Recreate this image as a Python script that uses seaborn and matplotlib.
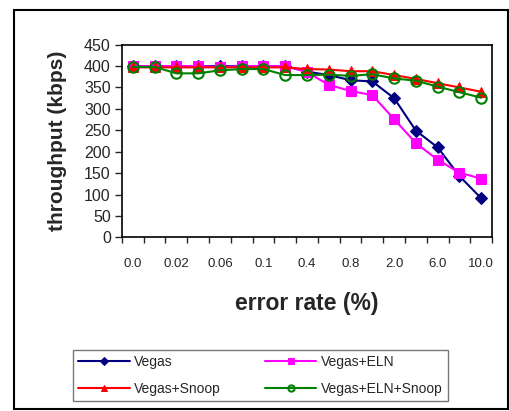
import numpy as np
import pandas as pd
import matplotlib
matplotlib.use("Agg")
import matplotlib.pyplot as plt
import seaborn as sns
from matplotlib.patches import Rectangle

# error rate categories (every other label is shown on the axis)
error_rates = ["0.0", "0.01", "0.02", "0.04", "0.06", "0.08", "0.1", "0.2", "0.4",
               "0.6", "0.8", "1.0", "2.0", "4.0", "6.0", "8.0", "10.0"]

vegas = [400, 400, 400, 400, 400, 400, 400, 400, 387, 379, 367, 364, 325, 249, 210, 143, 91]
vegas_eln = [400, 400, 400, 400, 398, 400, 400, 400, 386, 356, 342, 332, 276, 220, 181, 151, 137]
vegas_snoop = [397, 397, 397, 397, 397, 397, 397, 397, 393, 392, 388, 388, 379, 370, 360, 350, 340]
vegas_eln_snoop = [398, 398, 383, 383, 390, 393, 393, 379, 379, 380, 377, 381, 371, 366, 352, 339, 326]

series = {
    "Vegas": vegas,
    "Vegas+ELN": vegas_eln,
    "Vegas+Snoop": vegas_snoop,
    "Vegas+ELN+Snoop": vegas_eln_snoop,
}
styles = {
    "Vegas": dict(color="#000080", marker="D", markersize=6.5),
    "Vegas+ELN": dict(color="#FF00FF", marker="s", markersize=7.5),
    "Vegas+Snoop": dict(color="#FF0000", marker="^", markersize=7),
    "Vegas+ELN+Snoop": dict(color="#008000", marker="o", markersize=7.5,
                            markerfacecolor="none", markeredgewidth=1.5),
}

sns.set_style("white")
plt.rcParams["font.family"] = ["Liberation Sans", "DejaVu Sans"]

fig = plt.figure(figsize=(5.10, 4.11), dpi=100)
ax = fig.add_axes([0.239, 0.4226, 0.726, 0.4687])

pos = np.arange(len(error_rates))
for name, vals in series.items():
    df = pd.DataFrame({"x": pos, "y": vals})
    sns.lineplot(data=df, x="x", y="y", ax=ax, label=name, linewidth=1.5,
                 markeredgecolor=styles[name]["color"], **styles[name])

ax.set_xlim(-0.5, len(error_rates) - 0.5)
ax.set_ylim(0, 450)
ax.set_yticks(np.arange(0, 451, 50))
ax.tick_params(axis="y", labelsize=11.5, length=5, width=1, direction="out", left=True, pad=3)

ax.set_xticks(pos)
ax.set_xticklabels([lab if i % 2 == 0 else "" for i, lab in enumerate(error_rates)])
ax.set_xticks(np.arange(-0.5, len(error_rates), 1), minor=True)
ax.tick_params(axis="x", which="major", labelsize=9.5, length=0, pad=15)
ax.tick_params(axis="x", which="minor", length=4, width=1, direction="out", bottom=True)

for sp in ax.spines.values():
    sp.set_color("black")
    sp.set_linewidth(1.2)

ax.set_xlabel("error rate (%)", fontsize=16.5, fontweight="bold", labelpad=16)
ax.set_ylabel("throughput (kbps)", fontsize=15, fontweight="bold", labelpad=12)

# row-major order like the reference legend
handles, labels = ax.get_legend_handles_labels()
order = [0, 2, 1, 3]
ax.legend([handles[i] for i in order], [labels[i] for i in order],
          loc="lower left", bbox_to_anchor=(0.143, 0.024, 0.735, 0.139),
          bbox_transform=fig.transFigure, ncol=2, mode="expand", fontsize=10,
          frameon=True, fancybox=False, edgecolor="#555555", handlelength=3.7,
          handletextpad=0.3, markerscale=0.6, borderaxespad=0, labelspacing=0.9)
ax.get_legend().get_frame().set_linewidth(1)

fig.patches.append(Rectangle((0.0275, 0.005), 0.9686, 0.9708, transform=fig.transFigure,
                             fill=False, edgecolor="black", linewidth=1.5))

fig.savefig("out.png", dpi=100)
